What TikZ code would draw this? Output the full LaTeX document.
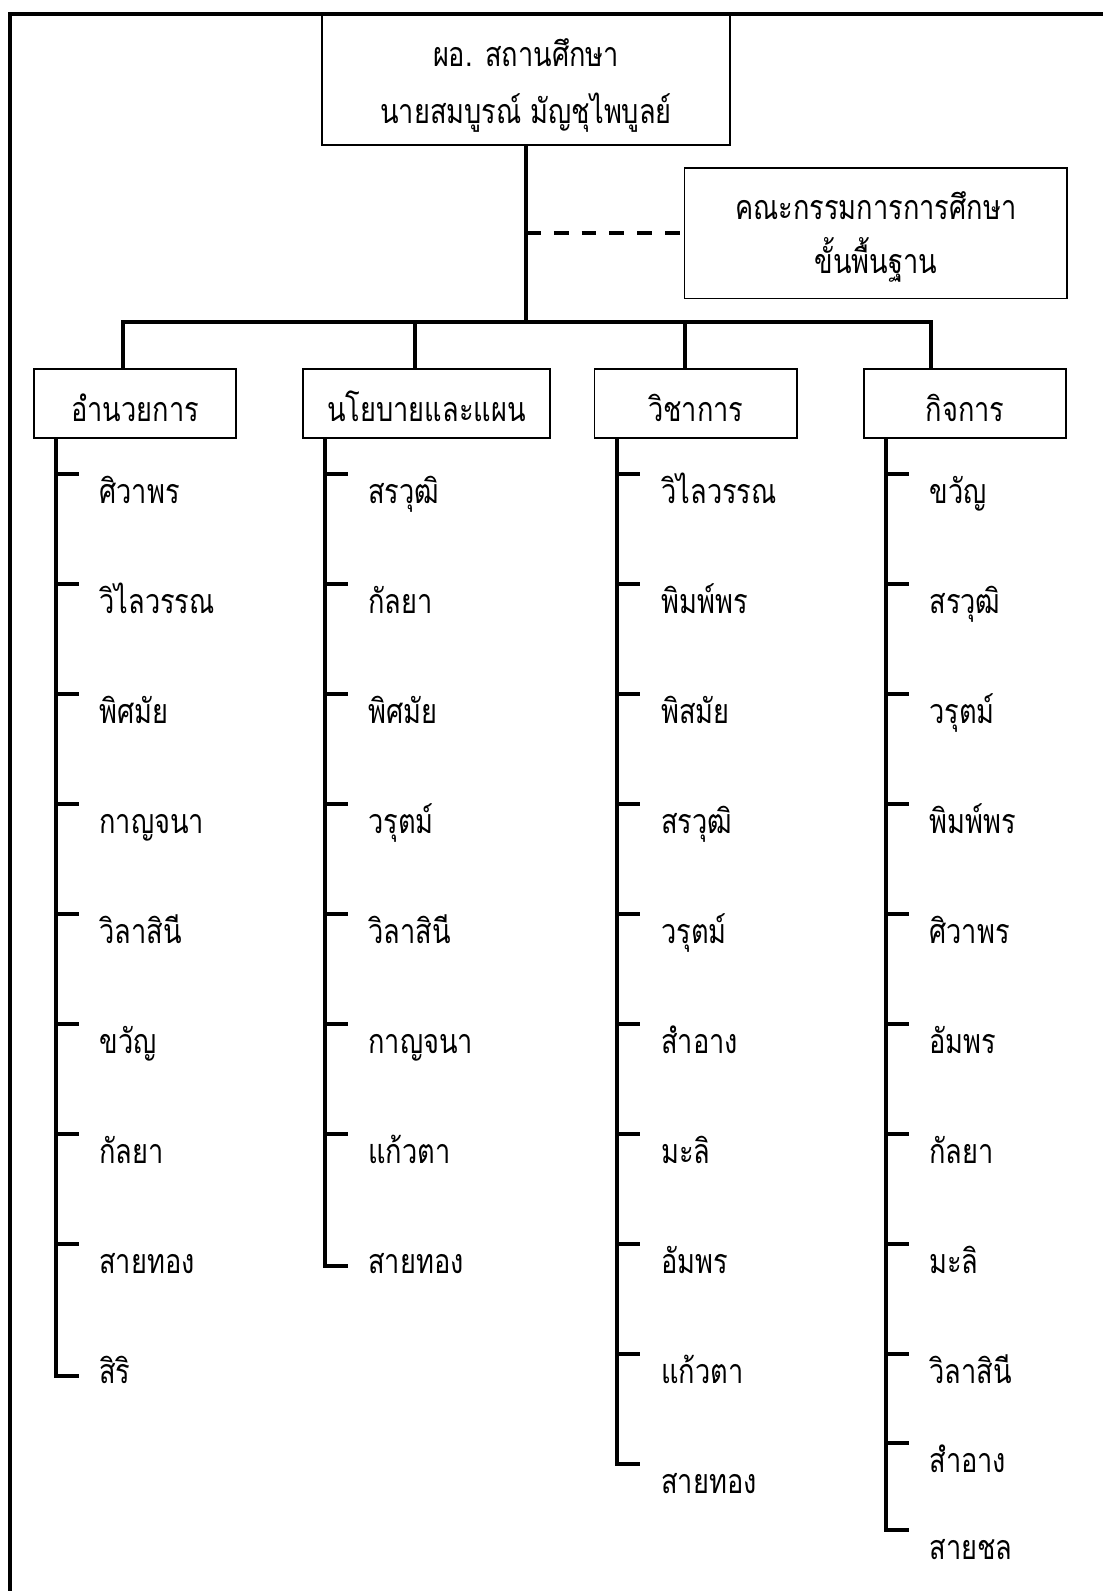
\documentclass[tikz,border=0pt]{standalone}
\usepackage{fontspec}
\newfontfamily\thaifont[Script=Thai, FakeStretch=0.8]{Loma}
\newcommand\thtxt{\thaifont\fontsize{17pt}{20pt}\selectfont}
\tikzset{
  frameline/.style={line width=2pt},
  boxframe/.style={draw, line width=0.85pt, inner sep=0pt},
  branchbox/.style={boxframe, minimum height=34.5pt, text height=26pt, text depth=8.5pt, font=\thtxt},
  lbl/.style={anchor=base, inner sep=0pt, font=\thtxt},
  itemlbl/.style={anchor=base west, inner sep=0pt, font=\thtxt},
  conn/.style={line width=2pt, line join=miter},
  dashconn/.style={line width=2.2pt, dash pattern=on 7.4pt off 6.5pt},
  colline/.style={line width=2pt, line join=miter},
  itemtick/.style={line width=1.9pt},
}
\begin{document}
\begin{tikzpicture}[x=0.5pt,y=-0.5pt]
\useasboundingbox (0,0) rectangle (1103,1591);
\fill[white] (0,0) rectangle (1103,1591);
% outer frame
\coordinate (fbl) at (10,1591);
\coordinate (ftl) at (10,14);
\coordinate (ftr) at (1103,14);
\draw[frameline] (fbl) -- (ftl) -- (ftr);
% top box
\node[boxframe, minimum width=204pt, minimum height=65.5pt] (top) at (526,79.5) {};
\node[lbl] (topa) at (526,66) {ผอ. สถานศึกษา};
\node[lbl] (topb) at (526,123) {นายสมบูรณ์ มัญชุไพบูลย์};
% committee box
\node[boxframe, minimum width=191.25pt, minimum height=65.25pt] (com) at (875.75,233.25) {};
\node[lbl] (coma) at (875.75,219) {คณะกรรมการการศึกษา};
\node[lbl] (comb) at (875.75,273) {ขั้นพื้นฐาน};
% branch boxes
\node[branchbox, minimum width=101pt] (b1) at (135,403.5) {อำนวยการ};
\node[branchbox, minimum width=123.5pt] (b2) at (426.5,403.5) {นโยบายและแผน};
\node[branchbox, minimum width=101.2pt] (b3) at (695.8,403.5) {วิชาการ};
\node[branchbox, minimum width=101pt] (b4) at (965,403.5) {กิจการ};
% trunk, bar and drops
\coordinate (bar1) at (123,322);
\coordinate (bar2) at (415,322);
\coordinate (bar3) at (685,322);
\coordinate (bar4) at (931,322);
\draw[conn] (top.south) -- (top.south |- bar1);
\draw[dashconn] (top.south |- com.west) -- (com.west);
\draw[conn] (bar1 |- b1.north) -- (bar1) -- (bar4) -- (bar4 |- b4.north);
\draw[conn] (bar2) -- (bar2 |- b2.north);
\draw[conn] (bar3) -- (bar3 |- b3.north);
% column 1
\coordinate (c1top) at (56,438);
\coordinate (c1end) at (56,1376);
\draw[colline] (c1top) -- (c1end) -- ++(23,0);
\foreach \nm [count=\i from 0] in {ศิวาพร,วิไลวรรณ,พิศมัย,กาญจนา,วิลาสินี,ขวัญ,กัลยา,สายทอง,สิริ}{
  \pgfmathsetmacro\ty{474+110*\i}
  \node[itemlbl] (c1i\i) at (99,\ty+29) {\nm};
}
\foreach \i in {0,...,7}{
  \pgfmathsetmacro\ty{474+110*\i}
  \coordinate (c1t\i) at (56,\ty);
  \draw[itemtick] (c1t\i) -- ++(23,0);
}
% column 2
\coordinate (c2top) at (325,438);
\coordinate (c2end) at (325,1266);
\draw[colline] (c2top) -- (c2end) -- ++(23,0);
\foreach \nm [count=\i from 0] in {สรวุฒิ,กัลยา,พิศมัย,วรุตม์,วิลาสินี,กาญจนา,แก้วตา,สายทอง}{
  \pgfmathsetmacro\ty{474+110*\i}
  \node[itemlbl] (c2i\i) at (368,\ty+29) {\nm};
}
\foreach \i in {0,...,6}{
  \pgfmathsetmacro\ty{474+110*\i}
  \coordinate (c2t\i) at (325,\ty);
  \draw[itemtick] (c2t\i) -- ++(23,0);
}
% column 3
\coordinate (c3top) at (617,438);
\coordinate (c3end) at (617,1464);
\draw[colline] (c3top) -- (c3end) -- ++(23,0);
\foreach \nm [count=\i from 0] in {วิไลวรรณ,พิมพ์พร,พิสมัย,สรวุฒิ,วรุตม์,สำอาง,มะลิ,อัมพร,แก้วตา,สายทอง}{
  \pgfmathsetmacro\ty{474+110*\i}
  \node[itemlbl] (c3i\i) at (661,\ty+29) {\nm};
}
\foreach \i in {0,...,8}{
  \pgfmathsetmacro\ty{474+110*\i}
  \coordinate (c3t\i) at (617,\ty);
  \draw[itemtick] (c3t\i) -- ++(23,0);
}
% column 4
\coordinate (c4top) at (886,438);
\coordinate (c4end) at (886,1530);
\draw[colline] (c4top) -- (c4end) -- ++(23,0);
\foreach \nm/\ty [count=\i from 0] in {ขวัญ/474,สรวุฒิ/584,วรุตม์/694,พิมพ์พร/804,ศิวาพร/914,อัมพร/1024,กัลยา/1134,มะลิ/1244,วิลาสินี/1354,สำอาง/1443,สายชล/1530}{
  \node[itemlbl] (c4i\i) at (929,\ty+29) {\nm};
}
\foreach \ty [count=\i from 0] in {474,584,694,804,914,1024,1134,1244,1354,1443}{
  \coordinate (c4t\i) at (886,\ty);
  \draw[itemtick] (c4t\i) -- ++(23,0);
}
\end{tikzpicture}
\end{document}
